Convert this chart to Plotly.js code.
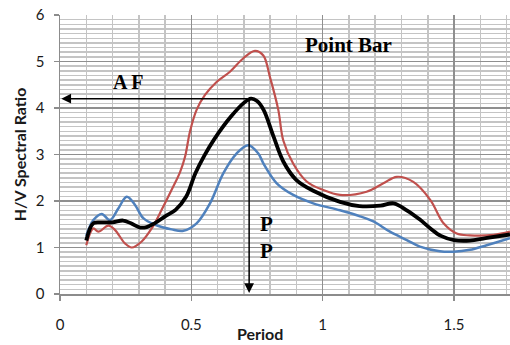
<!DOCTYPE html>
<html>
<head>
<meta charset="utf-8">
<script src="https://cdn.plot.ly/plotly-3.0.1.min.js"></script>
<style>html,body{margin:0;padding:0;background:#fff;}#chart{width:510px;height:345px;}</style>
</head>
<body>
<div id="chart"></div>
<script>
// Mean H/V curve (black)
const meanPeriod = [0.10,0.127,0.16,0.20,0.24,0.27,0.305,0.33,0.36,0.40,0.44,0.48,0.515,0.55,0.585,0.65,0.70,0.727,0.75,0.775,0.812,0.85,0.90,0.964,1.066,1.14,1.22,1.27,1.32,1.37,1.41,1.45,1.50,1.56,1.62,1.713];
const meanHV     = [1.15,1.52,1.54,1.54,1.58,1.52,1.43,1.44,1.52,1.67,1.81,2.09,2.59,2.98,3.31,3.81,4.11,4.20,4.15,3.96,3.40,2.85,2.45,2.22,1.98,1.89,1.90,1.95,1.80,1.60,1.41,1.25,1.16,1.15,1.20,1.28];
// Mean + std (red)
const upperPeriod = [0.10,0.127,0.146,0.184,0.209,0.247,0.273,0.311,0.349,0.387,0.425,0.457,0.476,0.495,0.52,0.552,0.596,0.647,0.698,0.742,0.774,0.799,0.831,0.85,0.888,0.939,1.0,1.066,1.167,1.231,1.282,1.345,1.41,1.46,1.51,1.56,1.65,1.713];
const upperHV     = [1.05,1.41,1.34,1.47,1.38,1.09,1.00,1.13,1.41,1.81,2.24,2.62,2.95,3.50,3.96,4.28,4.56,4.78,5.07,5.23,5.13,4.67,3.96,3.30,2.80,2.42,2.24,2.13,2.20,2.38,2.52,2.41,2.02,1.52,1.30,1.26,1.27,1.34];
// Mean - std (blue)
const lowerPeriod = [0.10,0.127,0.159,0.19,0.222,0.254,0.285,0.317,0.362,0.425,0.47,0.52,0.571,0.622,0.672,0.717,0.755,0.775,0.825,0.888,0.964,1.066,1.142,1.193,1.256,1.32,1.37,1.446,1.497,1.56,1.624,1.713];
const lowerHV     = [1.25,1.59,1.72,1.59,1.84,2.09,1.92,1.63,1.49,1.39,1.36,1.52,1.95,2.60,3.02,3.20,3.02,2.80,2.38,2.13,1.95,1.80,1.67,1.56,1.34,1.16,1.02,0.92,0.91,0.95,1.05,1.20];

// Peak marker (A F / P P)
const peakPeriod = 0.72;
const peakAmp = 4.2;

const xTickVals = [0, 0.5, 1, 1.5];
const xTickText = ['0', '0.5', '1', '1.5'];
const yTickVals = [0, 1, 2, 3, 4, 5, 6];

const sans = 'Lato, "Open Sans", sans-serif';
const serif = '"Liberation Serif", "Times New Roman", serif';

const traces = [
  {x: lowerPeriod, y: lowerHV, mode: 'lines', line: {color: '#4F81BD', width: 2.5, shape: 'spline', smoothing: 1}, hoverinfo: 'skip'},
  {x: upperPeriod, y: upperHV, mode: 'lines', line: {color: '#C0504D', width: 2.2, shape: 'spline', smoothing: 1}, hoverinfo: 'skip'},
  {x: meanPeriod, y: meanHV, mode: 'lines', line: {color: '#000000', width: 3.8, shape: 'spline', smoothing: 1}, hoverinfo: 'skip'}
];

const layout = {
  width: 510, height: 345,
  margin: {l: 60, r: 0, t: 15, b: 51},
  paper_bgcolor: '#ffffff', plot_bgcolor: '#ffffff',
  showlegend: false,
  font: {family: sans, size: 15, color: '#1a1a1a'},
  xaxis: {
    range: [0, 1.713], tickvals: xTickVals, ticktext: xTickText,
    ticks: 'outside', ticklen: 5, tickcolor: '#8c8c8c', tickwidth: 1.5,
    ticklabelstandoff: 11,
    showgrid: true, gridcolor: '#8f8f8f', gridwidth: 1.5,
    minor: {dtick: 0.1, showgrid: true, gridcolor: '#c4c4c4', gridwidth: 1.5, ticks: ''},
    showline: true, linecolor: '#8c8c8c', linewidth: 1.5,
    zeroline: false, tickfont: {family: sans, size: 15, color: '#1a1a1a'}
  },
  yaxis: {
    range: [0, 6], tickvals: yTickVals,
    ticks: 'outside', ticklen: 5, tickcolor: '#8c8c8c', tickwidth: 1.5,
    ticklabelstandoff: 6,
    showgrid: true, gridcolor: '#8f8f8f', gridwidth: 1.5,
    minor: {dtick: 0.1, showgrid: true, gridcolor: '#c4c4c4', gridwidth: 1.5, ticks: ''},
    showline: true, linecolor: '#8c8c8c', linewidth: 1.5,
    zeroline: false, tickfont: {family: sans, size: 15, color: '#1a1a1a'},
    title: {text: 'H/V Spectral Ratio', font: {family: sans, size: 16, color: '#1a1a1a', weight: 'bold'}, standoff: 5}
  },
  annotations: [
    {xref: 'paper', yref: 'paper', x: 0.444, y: -0.14, xanchor: 'center', yanchor: 'middle',
     text: '<b>Period</b>', showarrow: false, font: {family: sans, size: 16, color: '#1a1a1a'}},
    {xref: 'x', yref: 'y', x: 1.10, y: 5.35, text: '<b>Point Bar</b>', showarrow: false,
     font: {family: serif, size: 21, color: '#000'}},
    {xref: 'x', yref: 'y', x: 0.26, y: 4.55, text: '<b>A F</b>', showarrow: false,
     font: {family: serif, size: 20, color: '#000'}},
    {xref: 'x', yref: 'y', x: 0.785, y: 1.5, text: '<b>P</b>', showarrow: false,
     font: {family: serif, size: 21, color: '#000'}},
    {xref: 'x', yref: 'y', x: 0.785, y: 0.93, text: '<b>P</b>', showarrow: false,
     font: {family: serif, size: 21, color: '#000'}},
    {xref: 'x', yref: 'y', axref: 'x', ayref: 'y', x: 0.005, y: peakAmp, ax: peakPeriod, ay: peakAmp,
     text: '', showarrow: true, arrowhead: 2, arrowsize: 1.3, arrowwidth: 1.5, arrowcolor: '#000'},
    {xref: 'x', yref: 'y', axref: 'x', ayref: 'y', x: peakPeriod, y: 0.02, ax: peakPeriod, ay: peakAmp,
     text: '', showarrow: true, arrowhead: 2, arrowsize: 1.3, arrowwidth: 1.5, arrowcolor: '#000'}
  ]
};

Plotly.newPlot('chart', traces, layout, {staticPlot: true, displayModeBar: false});
</script>
</body>
</html>
